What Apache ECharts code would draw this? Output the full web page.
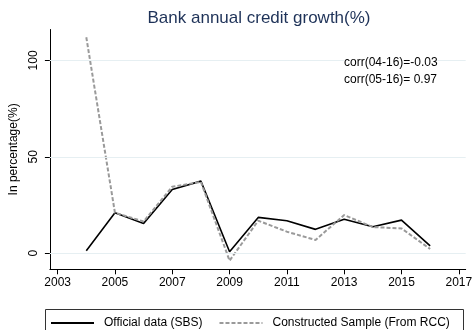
<!DOCTYPE html>
<html><head><meta charset="utf-8">
<script src="https://cdn.jsdelivr.net/npm/echarts@6/dist/echarts.min.js"></script>
<style>html,body{margin:0;padding:0;background:#fff}#c{width:475px;height:330px}</style>
</head><body><div id="c"></div>
<script>
var years = [2004,2005,2006,2007,2008,2009,2010,2011,2012,2013,2014,2015,2016];
var official = [1.3,21.0,15.5,33.1,37.4,0.8,18.6,16.9,12.4,17.6,13.8,17.2,3.8];
var constructed = [112,21.0,16.5,34.5,37.0,-3.8,16.9,11.2,6.9,19.8,13.6,12.9,2.2];
var xTicks = [2003,2005,2007,2009,2011,2013,2015,2017];
var yTicks = [0,50,100];
var notes = ['corr(04-16)=-0.03','corr(05-16)= 0.97'];
var FONT = 'Liberation Sans';
function pairs(v){return years.map(function(y,i){return [y,v[i]];});}
var chart = echarts.init(document.getElementById('c'), null, {renderer:'canvas'});
chart.setOption({
  backgroundColor:'#fff',
  animation:false,
  textStyle:{fontFamily:FONT},
  title:{text:'Bank annual credit growth(%)',left:254,textAlign:'center',top:5,
    textStyle:{fontFamily:FONT,fontSize:17,fontWeight:'normal',color:'#1e3258'}},
  grid:{left:41,right:7,top:29.5,bottom:60.7,containLabel:false},
  xAxis:{type:'value',min:2002.73,max:2017.24,
    axisLine:{show:true,onZero:false,lineStyle:{color:'#000',width:1}},
    axisTick:{show:true,length:5,customValues:xTicks,lineStyle:{color:'#000'}},
    axisLabel:{customValues:xTicks,color:'#000',fontSize:12,fontFamily:FONT,margin:7,
      formatter:function(v){return String(v);}},
    splitLine:{show:false}},
  yAxis:{type:'value',min:-8.3,max:116,
    name:'In percentage(%)',nameLocation:'middle',nameGap:26,
    nameTextStyle:{color:'#000',fontSize:12,fontFamily:FONT},
    axisLine:{show:true,onZero:false,lineStyle:{color:'#000',width:1}},
    axisTick:{show:true,length:5,customValues:yTicks,lineStyle:{color:'#000'}},
    axisLabel:{customValues:yTicks,rotate:90,color:'#000',fontSize:12,fontFamily:FONT,margin:10},
    splitLine:{show:false}},
  legend:{left:45,top:312,itemWidth:43,itemHeight:10,itemGap:16,
    itemStyle:{opacity:0},
    textStyle:{color:'#000',fontSize:12,fontFamily:FONT,padding:[0,0,0,5]},
    data:['Official data (SBS)','Constructed Sample (From RCC)']},
  graphic:[
    {type:'rect',shape:{x:45.5,y:309.5,width:418,height:40},style:{fill:'none',stroke:'#333',lineWidth:1},silent:true},
    {type:'text',left:344,top:57,z:100,style:{text:notes[0],fontSize:12,fontFamily:FONT,fill:'#000',backgroundColor:'#fff'}},
    {type:'text',left:344,top:74,z:100,style:{text:notes[1],fontSize:12,fontFamily:FONT,fill:'#000'}}
  ],
  series:[
    {name:'grid',type:'line',data:[],silent:true,
      markLine:{silent:true,symbol:'none',label:{show:false},
        lineStyle:{color:'#e6eff2',width:1,type:'solid'},
        data:yTicks.map(function(v){return {yAxis:v};})}},
    {name:'Official data (SBS)',type:'line',data:pairs(official),symbol:'none',
      lineStyle:{color:'#000',width:1.6},itemStyle:{color:'#000'},z:3},
    {name:'Constructed Sample (From RCC)',type:'line',data:pairs(constructed),symbol:'none',
      lineStyle:{color:'#9a9a9a',width:2,type:[4,2]},itemStyle:{color:'#9a9a9a'},z:4}
  ]
});
</script></body></html>
